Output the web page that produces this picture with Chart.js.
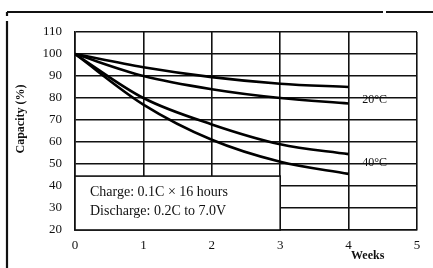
<!DOCTYPE html>
<html><head><meta charset="utf-8">
<script src="https://cdn.jsdelivr.net/npm/chart.js@4"></script>
<style>html,body{margin:0;padding:0;background:#fff}#c{display:block}</style>
</head><body>
<canvas id="c" width="433" height="268"></canvas>
<script>
const weeks = [0, 1, 2, 3, 4];
const temp20Upper = [100, 94, 89.5, 86.5, 85];
const temp20Lower = [100, 90, 84, 80, 77.5];
const temp40Upper = [100, 80, 68, 59, 54.5];
const temp40Lower = [100, 77, 61, 51, 45.5];
const yTicks = [20, 30, 40, 50, 60, 70, 80, 90, 100, 110];
const xTicks = [0, 1, 2, 3, 4, 5];
const seriesLabels = ['20°C', '40°C'];
const noteLines = ['Charge: 0.1C × 16 hours', 'Discharge: 0.2C to 7.0V'];
const yTitle = 'Capacity (%)';
const xTitle = 'Weeks';

const serif = "'Liberation Serif', 'DejaVu Serif', serif";
const pts = a => a.map((v, i) => ({x: weeks[i], y: v}));
const ds = a => ({data: pts(a), borderColor: '#000', borderWidth: 2.6, pointRadius: 0, cubicInterpolationMode: 'monotone', fill: false});

const decor = {
  id: 'decor',
  afterDatasetsDraw(chart) {
    const {ctx, scales: {x, y}} = chart;
    ctx.save();
    // note box
    const l = x.getPixelForValue(0), r = x.getPixelForValue(3);
    const t = y.getPixelForValue(44.5), b = y.getPixelForValue(20);
    ctx.fillStyle = '#fff';
    ctx.fillRect(l, t, r - l, b - t);
    ctx.strokeStyle = '#111'; ctx.lineWidth = 1.6;
    ctx.strokeRect(l, t, r - l, b - t);
    ctx.fillStyle = '#111';
    ctx.font = '14px ' + serif;
    ctx.textBaseline = 'middle'; ctx.textAlign = 'left';
    ctx.fillText(noteLines[0], l + 15, t + 16);
    ctx.fillText(noteLines[1], l + 15, t + 35);
    // series labels
    ctx.font = '12px ' + serif;
    ctx.fillText(seriesLabels[0], x.getPixelForValue(4.2), y.getPixelForValue(79));
    ctx.fillText(seriesLabels[1], x.getPixelForValue(4.2), y.getPixelForValue(50.5));
    // axis titles
    ctx.font = 'bold 12px ' + serif;
    ctx.fillText(xTitle, 351, 256);
    ctx.save();
    ctx.translate(21, 119); ctx.rotate(-Math.PI / 2);
    ctx.textAlign = 'center';
    ctx.font = 'bold 12px ' + serif;
    ctx.fillText(yTitle, 0, 0);
    ctx.restore();
    // outer frame
    ctx.strokeStyle = '#111'; ctx.lineWidth = 2.2;
    ctx.beginPath();
    ctx.moveTo(7, 12); ctx.lineTo(383, 12);
    ctx.moveTo(386, 12); ctx.lineTo(433, 12);
    ctx.moveTo(7, 21); ctx.lineTo(7, 268);
    ctx.moveTo(7, 12); ctx.lineTo(7, 16);
    ctx.stroke();
    ctx.restore();
  }
};

new Chart(document.getElementById('c'), {
  type: 'line',
  data: {datasets: [ds(temp20Upper), ds(temp20Lower), ds(temp40Upper), ds(temp40Lower)]},
  options: {
    responsive: false, animation: false, devicePixelRatio: 1,
    layout: {padding: {left: 0, right: 16, top: 32, bottom: 0}},
    plugins: {legend: {display: false}, tooltip: {enabled: false}},
    scales: {
      x: {
        type: 'linear', min: 0, max: 5,
        afterBuildTicks: s => { s.ticks = xTicks.map(v => ({value: v})); },
        afterFit: s => { s.height = 38; },
        grid: {color: '#111', lineWidth: 1.6, drawTicks: false},
        border: {color: '#111', width: 1.6},
        ticks: {color: '#111', padding: 8, font: {family: serif, size: 13}, maxRotation: 0}
      },
      y: {
        min: 20, max: 110,
        afterBuildTicks: s => { s.ticks = yTicks.map(v => ({value: v})); },
        afterFit: s => { s.width = 75; },
        grid: {color: '#111', lineWidth: 1.6, drawTicks: false},
        border: {color: '#111', width: 1.6},
        ticks: {color: '#111', padding: 13, font: {family: serif, size: 13}}
      }
    }
  },
  plugins: [decor]
});
</script>
</body></html>
